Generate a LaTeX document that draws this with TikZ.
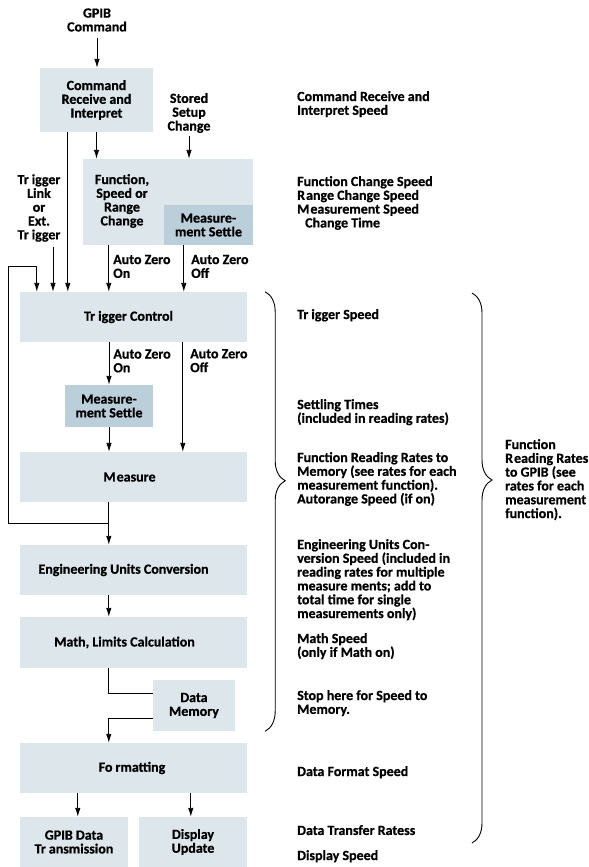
\documentclass[tikz,border=0pt]{standalone}
\usepackage{fontspec}
\setmainfont{Carlito}[BoldFeatures={FakeBold=0.7}]
\usetikzlibrary{arrows.meta,decorations.pathreplacing}

\definecolor{boxfill}{RGB}{220,230,235}
\definecolor{settlefill}{RGB}{186,207,218}

\newcommand{\dfont}{\bfseries\fontsize{14bp}{13.8bp}\selectfont}

\tikzset{
  box/.style={fill=boxfill, inner sep=0pt, align=center, font=\dfont},
  settle/.style={box, fill=settlefill},
  txt/.style={inner sep=0pt, align=center, font=\dfont},
  note/.style={inner sep=0pt, align=left, anchor=north west, font=\dfont},
  lbl/.style={inner sep=0pt, align=left, anchor=north west, font=\dfont},
  arr/.style={-{Latex[length=9bp,width=5.5bp]}, line width=0.9bp},
  ln/.style={line width=0.9bp},
}

\begin{document}
\begin{tikzpicture}[x=1bp,y=-1bp]
    \useasboundingbox (0,0) rectangle (589,867);

    \node[txt] (gpib) at (97,20) {GPIB\\Command};
    \node[box, minimum width=113bp, minimum height=64bp] (cri) at (96.5,100) {Command\\Receive and\\Interpret};
    \node[txt] (stored) at (189,113) {Stored\\Setup\\Change};
    \node[box, minimum width=170bp, minimum height=86bp] (func) at (168,202) {};
    \node[txt] (functxt) at (122,201) {Function,\\Speed or\\Range\\Change};
    \node[settle, minimum width=89bp, minimum height=40bp, anchor=south east] (settleA) at (func.south east) {Measure-\\ment Settle};
    \node[txt] (ext) at (39,208) {Tr\kern3bp igger\\Link\\or\\Ext.\\Tr\kern3bp igger};
    \node[box, minimum width=227bp, minimum height=50bp] (trig) at (133.5,317) {Tr\kern3bp igger Control\hspace*{10bp}};
    \node[settle, minimum width=88bp, minimum height=42bp] (settleB) at (109,406) {Measure-\\ment Settle};
    \node[box, minimum width=227bp, minimum height=50bp] (meas) at (133.5,477) {M\kern1bp easure\hspace*{8bp}};
    \node[box, minimum width=227bp, minimum height=50bp] (eng) at (133.5,570) {Engineering Units Conversion\hspace*{20bp}};
    \node[box, minimum width=227bp, minimum height=51bp] (math) at (133.5,642.5) {Math, Limits Calculation\hspace*{18bp}};
    \node[box, minimum width=82bp, minimum height=51bp] (mem) at (194,705.5) {Data\\Memory};
    \node[box, minimum width=227bp, minimum height=50bp] (fmt) at (133.5,768) {Fo\kern3bp rmatting\hspace*{3bp}};
    \node[box, minimum width=108bp, minimum height=50bp] (gd) at (74,842) {GPIB Data\\Tr\kern3bp ansmission};
    \node[box, minimum width=108bp, minimum height=50bp] (disp) at (193,842) {Display\\Update};

    \draw[arr, shorten <=6bp] (gpib.south) -- (gpib.south |- cri.north);
    \draw[arr] (cri.south) -- (cri.south |- func.north);
    \draw[arr, shorten <=3bp] (stored.south) -- (stored.south |- func.north);
    \draw[arr] ([xshift=28bp]cri.south west) -- ([xshift=28bp]cri.south west |- trig.north);
    \draw[arr, shorten <=5bp] ([xshift=14bp]ext.south) -- ([xshift=14bp]ext.south |- trig.north);
    \draw[arr] ([xshift=26bp]func.south west) -- ([xshift=26bp]func.south west |- trig.north)
        node[lbl, pos=0.2, xshift=4bp] {Auto Zero\\On};
    \draw[arr] ([xshift=20bp]settleA.south west) -- ([xshift=20bp]settleA.south west |- trig.north)
        node[lbl, pos=0.2, xshift=7bp] {Auto Zero\\Off};

    \draw[arr] (settleB.north |- trig.south) -- (settleB.north)
        node[lbl, pos=0.16, xshift=4bp] {Auto Zero\\On};
    \draw[arr] ([xshift=163bp]trig.south west) -- ([xshift=163bp]trig.south west |- meas.north)
        node[lbl, pos=0.06, xshift=7bp] {Auto Zero\\Off};
    \draw[arr] (settleB.south) -- (settleB.south |- meas.north);

    \coordinate (split) at ([xshift=89bp,yshift=-21bp]meas.south west);
    \draw[arr] ([xshift=89bp]meas.south west) -- ([xshift=89bp]eng.north west);
    \draw[arr] (split) -| ([xshift=-11bp,yshift=25bp]trig.north west) -| ([xshift=17bp]trig.north west);
    \draw[arr] ([xshift=89bp]eng.south west) -- ([xshift=89bp]math.north west);
    \draw[ln] ([xshift=89bp]math.south west) |- ([yshift=12.5bp]mem.west);
    \draw[arr] ([yshift=-12.5bp]mem.west) -| ([xshift=89bp]fmt.north west);
    \draw[arr] ([xshift=58bp]fmt.south west) -- ([xshift=58bp]fmt.south west |- gd.north);
    \draw[arr] ([xshift=171bp]fmt.south west) -- ([xshift=171bp]fmt.south west |- disp.north);

    \draw[ln, decorate, decoration={brace, amplitude=20bp, aspect=0.43}]
        ([xshift=18bp]trig.north east) -- ([xshift=18bp]trig.north east |- mem.south);
    \draw[ln, decorate, decoration={brace, amplitude=20bp, aspect=0.34}]
        (472,293) -- (472,843);

    \node[note] (n1) at (297,91) {Command Receive and\\Interpret Speed};
    \node[note] (n2) at (297,176) {Function Change Speed\\R\kern1bp ange Change Speed\\M\kern1bp easurement Speed\\\hspace*{8bp}Change Time};
    \node[note] (n3) at (297,309) {Tr\kern3bp igger Speed};
    \node[note] (n4) at (297,399) {Settling Times\\(included in reading rates)};
    \node[note] (n5) at (297,452) {Function Reading Rates to\\Memory (see rates for each\\measurement function).\\Autorange Speed (if on)};
    \node[note] (n6) at (297,539) {Engineering Units Con-\\version Speed (included in\\reading rates for multiple\\measure ments; add to\\total time for single\\measurements only)};
    \node[note] (n7) at (297,633) {Math Speed\\(only if Math on)};
    \node[note] (n8) at (297,690) {Stop here for Speed to\\Memory.};
    \node[note] (n9) at (297,766) {Data Format Speed};
    \node[note] (n10) at (297,825) {Data Transfer Ratess};
    \node[note] (n11) at (297,850) {Display Speed};
    \node[note] (n12) at (505,439) {Function\\R\kern1bp eading Rates\\to GPIB (see\\rates for each\\measurement\\function).};
\end{tikzpicture}
\end{document}
